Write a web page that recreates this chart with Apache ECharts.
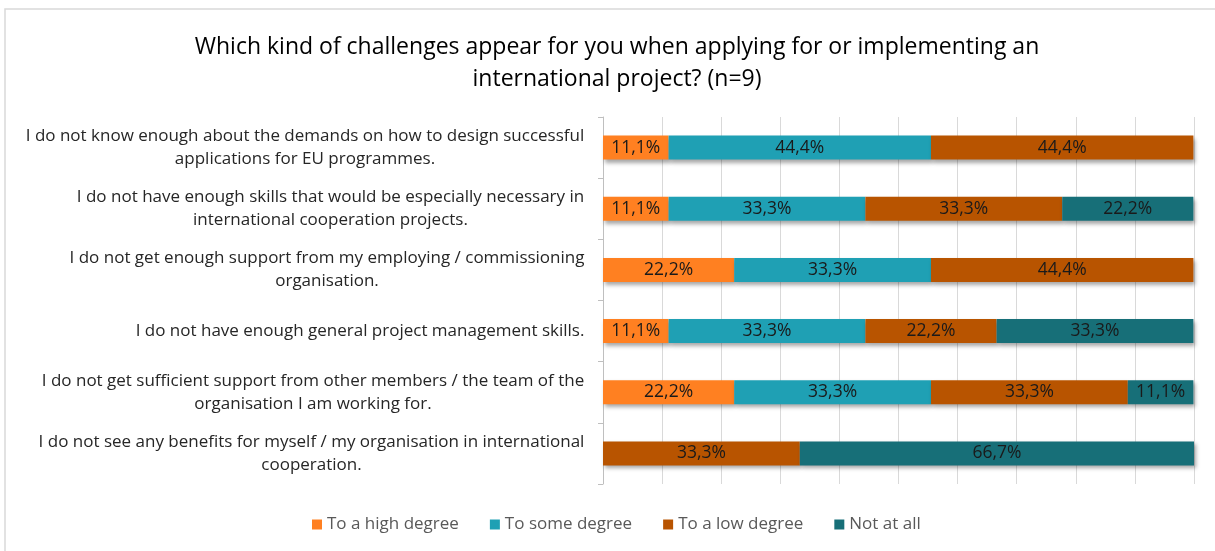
<!DOCTYPE html>
<html>
<head>
<meta charset="utf-8">
<script src="https://cdn.jsdelivr.net/npm/echarts@6/dist/echarts.min.js"></script>
<style>
  html, body { margin: 0; padding: 0; background: #fff; }
  #main { width: 1215px; height: 551px; }
</style>
</head>
<body>
<div id="main"></div>
<script>
// categories, top to bottom
var categories = [
  ['I do not know enough about the demands on how to design successful', 'applications for EU programmes.'],
  ['I do not have enough skills that would be especially necessary in', 'international cooperation projects.'],
  ['I do not get enough support from my employing / commissioning', 'organisation.'],
  ['I do not have enough general project management skills.'],
  ['I do not get sufficient support from other members / the team of the', 'organisation I am working for.'],
  ['I do not see any benefits for myself / my organisation in international', 'cooperation.']
];
var seriesNames = ['To a high degree', 'To some degree', 'To a low degree', 'Not at all'];
var highDegree = [11.1, 11.1, 22.2, 11.1, 22.2, 0];
var someDegree = [44.4, 33.3, 33.3, 33.3, 33.3, 0];
var lowDegree = [44.4, 33.3, 44.4, 22.2, 33.3, 33.3];
var notAtAll = [0, 22.2, 0, 33.3, 11.1, 66.7];
var colors = ['#FF8021', '#1FA0B4', '#B85400', '#176F78'];

var fontName = 'Open Sans';
var labelSize = 17;

// width of each label block = its longest line, lines centred inside it
var ctx = document.createElement('canvas').getContext('2d');
ctx.font = labelSize + 'px "' + fontName + '"';
var rich = {};
categories.forEach(function (lines, i) {
  var w = 0;
  lines.forEach(function (l) { w = Math.max(w, ctx.measureText(l).width); });
  rich['c' + i] = { width: Math.ceil(w) + 1, align: 'center', fontSize: labelSize, fontFamily: fontName, color: '#262626', lineHeight: 23 };
});

var myChart = echarts.init(document.getElementById('main'));

function makeSeries(name, data, idx) {
  return {
    name: name,
    type: 'bar',
    stack: 'total',
    barWidth: 24,
    data: data,
    itemStyle: {
      color: colors[idx],
      shadowBlur: 4,
      shadowOffsetX: 2,
      shadowOffsetY: 3,
      shadowColor: 'rgba(0,0,0,0.35)'
    },
    label: {
      show: true,
      position: 'inside',
      color: '#1a1a1a',
      fontSize: 17.5,
      fontFamily: fontName,
      formatter: function (p) {
        return p.value > 0 ? p.value.toFixed(1).replace('.', ',') + '%' : '';
      }
    }
  };
}

myChart.setOption({
  animation: false,
  title: {
    text: 'Which kind of challenges appear for you when applying for or implementing an\ninternational project? (n=9)',
    left: 612,
    textAlign: 'center',
    top: 26,
    textStyle: { fontFamily: fontName, fontSize: 23, fontWeight: 'normal', color: '#000', lineHeight: 32 }
  },
  graphic: [{
    type: 'rect',
    shape: { x: 5, y: 9, width: 1300, height: 700 },
    style: { fill: null, stroke: '#d9d9d9', lineWidth: 1.5 },
    silent: true
  }],
  legend: {
    data: seriesNames,
    bottom: 13,
    left: 307,
    icon: 'rect',
    itemWidth: 10,
    itemHeight: 10,
    itemGap: 31,
    textStyle: { fontFamily: fontName, fontSize: 17, color: '#595959' }
  },
  grid: { left: 603, right: 21, top: 117, bottom: 67, containLabel: false },
  xAxis: {
    type: 'value',
    min: 0,
    max: 100,
    interval: 10,
    axisLabel: { show: false },
    axisLine: { show: false },
    axisTick: { show: false },
    splitLine: { show: true, lineStyle: { color: '#d9d9d9', width: 1 } }
  },
  yAxis: {
    type: 'category',
    inverse: true,
    data: categories.map(function (l, i) { return String(i); }),
    axisLine: { show: true, lineStyle: { color: '#bfbfbf' } },
    axisTick: { show: true, length: 5, lineStyle: { color: '#bfbfbf' } },
    axisLabel: {
      margin: 18,
      align: 'right',
      formatter: function (v) {
        var i = +v;
        return categories[i].map(function (l) { return '{c' + i + '|' + l + '}'; }).join('\n');
      },
      rich: rich
    }
  },
  series: [
    makeSeries(seriesNames[0], highDegree, 0),
    makeSeries(seriesNames[1], someDegree, 1),
    makeSeries(seriesNames[2], lowDegree, 2),
    makeSeries(seriesNames[3], notAtAll, 3)
  ]
});
</script>
</body>
</html>
